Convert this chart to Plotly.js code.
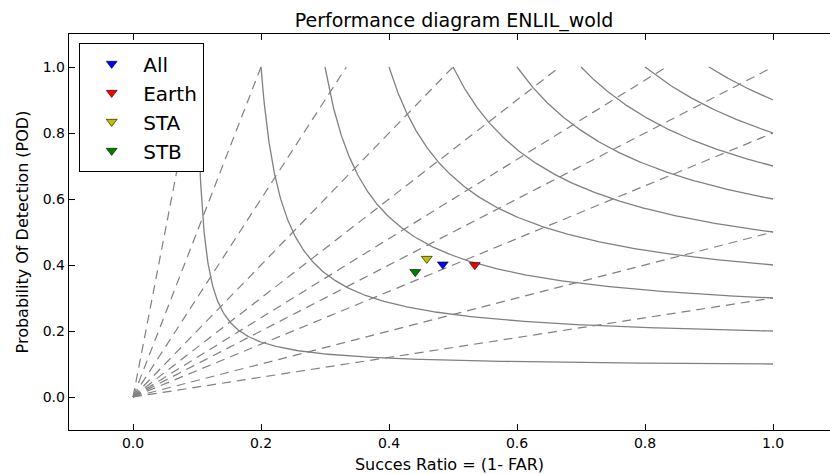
<!DOCTYPE html>
<html><head><meta charset="utf-8">
<script src="https://cdn.plot.ly/plotly-3.0.1.min.js"></script>
<style>html,body{margin:0;padding:0;background:#fff;}#chart{width:830px;height:474px;}</style>
</head><body><div id="chart"></div>
<script>
// Data
const seriesNames = ['All', 'Earth', 'STA', 'STB'];
const successRatio = [0.484, 0.534, 0.459, 0.441];
const probDetection = [0.402, 0.400, 0.419, 0.379];
const seriesColors = ['#0000ff', '#ff0000', '#bfbf00', '#008000'];

// Background isopleths of the performance diagram
const csiLevels = [0.1, 0.2, 0.3, 0.4, 0.5, 0.6, 0.7, 0.8, 0.9];
const biasLevels = [0.3, 0.5, 0.8, 1.0, 1.2, 1.5, 2, 3, 5, 10];

const tickValues = [0, 0.2, 0.4, 0.6, 0.8, 1.0];
const tickLabels = ['0.0', '0.2', '0.4', '0.6', '0.8', '1.0'];

const traces = [];
const grey = '#808080';

// Bias lines: POD = bias * SR, from the origin to the unit-square edge
biasLevels.forEach(b => {
  const end = b >= 1 ? [1 / b, 1] : [1, b];
  traces.push({
    x: [0, end[0]], y: [0, end[1]], mode: 'lines', showlegend: false, hoverinfo: 'skip',
    line: {color: grey, width: 1.2, dash: '9px,6px'}
  });
});

// CSI lines: 1/CSI = 1/SR + 1/POD - 1
csiLevels.forEach(c => {
  const xs = [], ys = [];
  const n = 300;
  for (let i = 0; i <= n; i++) {
    const t = i / n;
    const sr = c + (1 - c) * Math.pow(t, 2);
    const p = 1 / (1 / c + 1 - 1 / sr);
    xs.push(sr); ys.push(p);
  }
  traces.push({
    x: xs, y: ys, mode: 'lines', showlegend: false, hoverinfo: 'skip',
    line: {color: grey, width: 1.3}
  });
});

seriesNames.forEach((name, i) => {
  traces.push({
    x: [successRatio[i]], y: [probDetection[i]], name: name, mode: 'markers',
    marker: {symbol: 'triangle-down', size: 9.5, color: seriesColors[i], line: {color: '#000', width: 0.6}}
  });
});

const axisCommon = {
  tickvals: tickValues, ticktext: tickLabels, ticks: 'inside', ticklen: 6, tickwidth: 1,
  tickcolor: '#000', showline: true, linecolor: '#000', linewidth: 1.3,
  showgrid: false, zeroline: false, tickfont: {size: 14, color: '#000'}, automargin: false
};

const layout = {
  width: 830, height: 474,
  margin: {l: 69, r: 0, t: 34, b: 44, pad: 0},
  paper_bgcolor: '#fff', plot_bgcolor: '#fff',
  font: {family: 'DejaVu Sans', color: '#000'},
  title: {
    text: 'Performance diagram ENLIL_wold', font: {size: 19, color: '#000'},
    x: 454 / 830, xref: 'container', xanchor: 'center',
    y: 1 - 20 / 474, yref: 'container', yanchor: 'middle'
  },
  xaxis: Object.assign({}, axisCommon, {
    range: [-0.1, 1.089], mirror: 'ticks',
    title: {text: 'Succes Ratio = (1- FAR)', font: {size: 16, color: '#000'}, standoff: 9}
  }),
  yaxis: Object.assign({}, axisCommon, {
    range: [-0.1, 1.1], mirror: false,
    title: {text: 'Probability Of Detection (POD)', font: {size: 16, color: '#000'}, standoff: 10}
  }),
  legend: {
    x: 10 / 761, y: (430 - 43) / 396, xanchor: 'left', yanchor: 'top',
    bordercolor: '#000', borderwidth: 1.2, bgcolor: '#fff',
    font: {size: 20, color: '#000'}, itemwidth: 53, tracegroupgap: 0
  },
  showlegend: true
};

Plotly.newPlot('chart', traces, layout, {displayModeBar: false, staticPlot: true});
</script>
</body></html>
